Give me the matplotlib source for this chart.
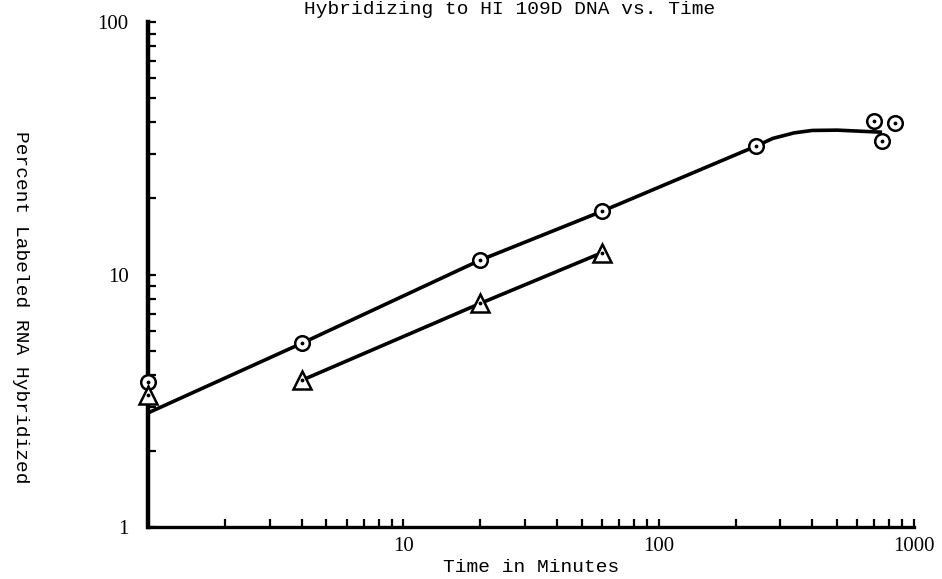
import matplotlib
matplotlib.use("Agg")
import matplotlib.pyplot as plt
from matplotlib.ticker import LogLocator, NullFormatter, FixedLocator, FixedFormatter

# measured points, two RNA preparations
circ_t = [1, 4, 20, 60, 240, 700, 750, 840]
circ_pct = [3.74, 5.34, 11.4, 17.8, 32.2, 40.5, 33.7, 39.7]
tri_t = [1, 4, 20, 60]
tri_pct = [3.32, 3.81, 7.68, 12.2]

# hand-fitted curve through the circles
fit_t = [1, 4, 20, 60, 240, 280, 340, 400, 500, 750]
fit_pct = [2.83, 5.34, 11.4, 17.8, 32.2, 34.6, 36.4, 37.2, 37.3, 36.6]
# straight line through the triangles
tri_line_t = [4, 20, 60]
tri_line_pct = [3.81, 7.68, 12.2]

xtick_vals = [10, 100, 1000]
xtick_text = ["10", "100", "1000"]
ytick_vals = [1, 10, 100]
ytick_text = ["1", "10", "100"]

mono = "Liberation Mono"
serif = "Liberation Serif"

fig = plt.figure(figsize=(9.42, 5.79), dpi=100)
ax = fig.add_axes([148 / 942, 1 - 527 / 579, 766 / 942, 505 / 579])
ax.set_xscale("log")
ax.set_yscale("log")
ax.set_xlim(1, 1000)
ax.set_ylim(1, 100)

ax.plot(fit_t, fit_pct, color="black", lw=2.6, solid_capstyle="butt", zorder=2)
ax.plot(tri_line_t, tri_line_pct, color="black", lw=2.6, solid_capstyle="butt", zorder=2)

ax.plot(circ_t, circ_pct, ls="none", marker="o", ms=10.5, mfc="white", mec="black",
        mew=1.8, zorder=3, clip_on=False)
ax.plot(circ_t, circ_pct, ls="none", marker=".", ms=3.5, color="black", zorder=4, clip_on=False)
ax.plot(tri_t, tri_pct, ls="none", marker="^", ms=13.5, mfc="white", mec="black",
        mew=1.8, zorder=3, clip_on=False)
ax.plot(tri_t, tri_pct, ls="none", marker=".", ms=3.5, color="black", zorder=4, clip_on=False)

for side in ["top", "right"]:
    ax.spines[side].set_visible(False)
ax.spines["left"].set_linewidth(3.2)
ax.spines["bottom"].set_linewidth(2.4)

ax.xaxis.set_major_locator(FixedLocator(xtick_vals))
ax.xaxis.set_major_formatter(FixedFormatter(xtick_text))
ax.yaxis.set_major_locator(FixedLocator(ytick_vals))
ax.yaxis.set_major_formatter(FixedFormatter(ytick_text))
for axis in [ax.xaxis, ax.yaxis]:
    axis.set_minor_locator(LogLocator(base=10, subs=range(2, 10)))
    axis.set_minor_formatter(NullFormatter())

ax.tick_params(which="both", direction="in", length=6, width=1.6, color="black")
ax.tick_params(axis="x", which="major", pad=7, labelsize=15)
ax.tick_params(axis="y", which="major", pad=14, labelsize=15)
for lab in ax.get_xticklabels() + ax.get_yticklabels():
    lab.set_fontfamily(serif)

ax.set_xlabel("Time in Minutes", fontfamily=mono, fontsize=14, labelpad=2)
fig.text(20 / 942, 1 - 307 / 579, "Percent Labeled RNA Hybridized", rotation=-90,
         ha="center", va="center", fontfamily=mono, fontsize=14)
fig.text(510 / 942, 1 - 1 / 579, "Hybridizing to HI 109D DNA vs. Time",
         ha="center", va="top", fontfamily=mono, fontsize=14)

fig.savefig("out.png", dpi=100, facecolor="white")
